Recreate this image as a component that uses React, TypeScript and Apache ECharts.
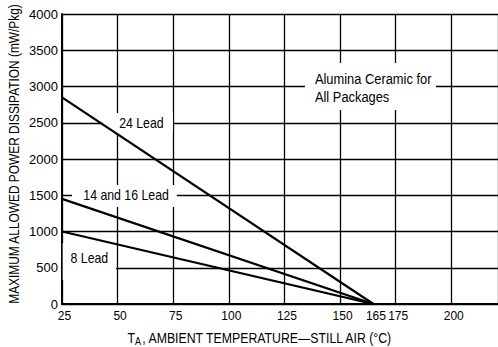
import React, { useEffect, useRef } from "react";
import * as echarts from "echarts";

const temps = [25, 165];
const lead24 = [2850, 0];
const lead1416 = [1450, 0];
const lead8 = [1000, 0];
const xTickLabels = [25, 50, 75, 100, 125, 150, 165, 175, 200];
const seriesNames = ["24 Lead", "14 and 16 Lead", "8 Lead"];
const noteLines = ["Alumina Ceramic for", "All Packages"];

const FONT = "'Liberation Sans', Arial, Helvetica, sans-serif";

export default function App() {
  const ref = useRef<HTMLDivElement>(null);
  useEffect(() => {
    if (!ref.current) return;
    const chart = echarts.init(ref.current, undefined, { renderer: "svg" });
    const mk = (vals: number[], name: string) => ({
      type: "line",
      name,
      data: temps.map((t, i) => [t, vals[i]]),
      symbol: "none",
      z: 5,
      lineStyle: { color: "#000", width: 2.2 },
    });
    chart.setOption({
      animation: false,
      backgroundColor: "#fff",
      grid: { left: 62, right: 0, top: 14, bottom: 43, containLabel: false },
      xAxis: {
        type: "value",
        min: 25,
        max: 221,
        interval: 25,
        axisLine: { show: true, lineStyle: { color: "#000", width: 2 } },
        axisTick: { show: false },
        splitLine: { show: true, lineStyle: { color: "#000", width: 1.3 } },
        axisLabel: {
          customValues: xTickLabels,
          color: "#000",
          fontSize: 12,
          fontFamily: FONT,
          margin: 6,
          padding: [0, 0, 0, 5],
        },
      },
      yAxis: {
        type: "value",
        min: 0,
        max: 4000,
        interval: 500,
        axisLine: { show: true, lineStyle: { color: "#000", width: 2 } },
        axisTick: { show: false },
        splitLine: { show: true, lineStyle: { color: "#000", width: 1.3 } },
        axisLabel: {
          color: "#000", fontSize: 13, fontFamily: FONT, margin: 4,
          formatter: (v: number) => String(v),
        },
      },
      series: [mk(lead24, seriesNames[0]), mk(lead1416, seriesNames[1]), mk(lead8, seriesNames[2])],
    });

    const px = (x: number, y: number) => chart.convertToPixel({ gridIndex: 0 }, [x, y]) as number[];
    const box = (x0: number, y0: number, x1: number, y1: number) => {
      const a = px(x0, y0);
      const b = px(x1, y1);
      return {
        type: "rect", z: 1, silent: true,
        shape: { x: Math.min(a[0], b[0]), y: Math.min(a[1], b[1]), width: Math.abs(b[0] - a[0]), height: Math.abs(b[1] - a[1]) },
        style: { fill: "#fff" },
      };
    };
    const label = (x: number, y: number, text: string, align: string, sx: number) => {
      const p = px(x, y);
      return {
        type: "text", z: 2, x: p[0], y: p[1], scaleX: sx,
        style: { text, fill: "#000", font: `14px ${FONT}`, align, verticalAlign: "middle" },
      };
    };
    chart.setOption({
      graphic: [
        box(43.4, 2634, 74.9, 2359),
        box(29.5, 1641, 76.6, 1338),
        box(25.3, 841, 49.3, 331),
        box(134.2, 3324, 193.1, 2676),
        label(60.7, 2497, seriesNames[0], "center", 0.88),
        label(53.8, 1503, seriesNames[1], "center", 0.88),
        label(37.3, 634, seriesNames[2], "center", 0.88),
        label(138.7, 3100, noteLines[0], "left", 0.92),
        label(138.7, 2852, noteLines[1], "left", 0.92),
        {
          type: "text", z: 2, x: 14, y: 154, rotation: Math.PI / 2, scaleX: 0.85,
          style: { fill: "#000", font: `14px ${FONT}`, text: "MAXIMUM ALLOWED POWER DISSIPATION (mW/Pkg)", align: "center", verticalAlign: "middle" },
        },
        {
          type: "text", z: 2, x: 260, y: 338, scaleX: 0.82,
          style: {
            text: "{t|T}{s|A}{t|, AMBIENT TEMPERATURE—STILL AIR (°C)}",
            align: "center", verticalAlign: "middle",
            rich: {
              t: { fill: "#000", fontSize: 15, fontFamily: FONT },
              s: { fill: "#000", fontSize: 11, fontFamily: FONT, padding: [6, 0, 0, 0] },
            },
          },
        },
      ],
    });
    return () => chart.dispose();
  }, []);
  return <div ref={ref} style={{ width: 498, height: 347, position: "absolute", left: 0, top: 0 }} />;
}
